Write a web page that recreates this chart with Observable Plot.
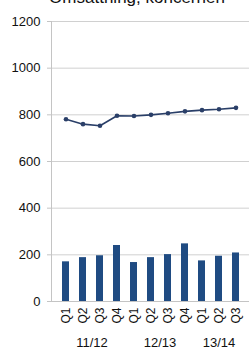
<!DOCTYPE html>
<html>
<head>
<meta charset="utf-8">
<script src="https://cdn.jsdelivr.net/npm/d3@7"></script>
<script src="https://cdn.jsdelivr.net/npm/@observablehq/plot@0.6"></script>
<style>
  body { margin: 0; background: #fff; font-family: "Liberation Sans", Arial, sans-serif; }
  #wrap { position: relative; width: 249px; height: 350px; overflow: hidden; }
  #title { position: absolute; left: 0; width: 274px; text-align: center; top: -11px; font-size: 17px; line-height: 17px; color: #111; white-space: nowrap; }
  #chart { position: absolute; left: 0; top: 0; }
</style>
</head>
<body>
<div id="wrap">
  <div id="title">Omsättning, koncernen</div>
  <div id="chart"></div>
</div>
<script>
const years = ["11/12","11/12","11/12","11/12","12/13","12/13","12/13","12/13","13/14","13/14","13/14"];
const quarters = ["Q1","Q2","Q3","Q4","Q1","Q2","Q3","Q4","Q1","Q2","Q3"];
const lineValues = [781, 760, 753, 796, 795, 800, 807, 815, 820, 824, 830];
const barValues = [170, 188, 196, 240, 167, 188, 201, 247, 174, 194, 208];
const yTicks = [0, 200, 400, 600, 800, 1000, 1200];
const yearLabels = ["11/12", "12/13", "13/14"];

const keys = years.map((y, i) => y + " " + quarters[i]);
const rows = keys.map((k, i) => ({key: k, line: lineValues[i], bar: barValues[i]}));
// year label anchored at the middle quarter of each year; offset half a band for 4-quarter years
const yearRows = yearLabels.map(y => {
  const idx = years.map((v, i) => v === y ? i : -1).filter(i => i >= 0);
  const mid = idx[Math.floor((idx.length - 1) / 2)];
  return {key: keys[mid], label: y, even: idx.length % 2 === 0};
});

const step = (249 - 51) / keys.length;

const chart = Plot.plot({
  width: 249,
  height: 350,
  marginTop: 21,
  marginBottom: 49,
  marginLeft: 51,
  marginRight: 0,
  style: {fontFamily: "Liberation Sans, Arial, sans-serif", color: "#222", background: "transparent"},
  x: {domain: keys, padding: 0.6, align: 0.5, label: null},
  y: {domain: [0, 1200], ticks: yTicks, label: null},
  marks: [
    Plot.gridY(yTicks, {stroke: "#d0d0d0", strokeOpacity: 1}),
    Plot.frame({anchor: "left", stroke: "#c4c4c4"}),
    Plot.ruleY([0], {stroke: "#c4c4c4"}),
    Plot.barY(rows, {x: "key", y: "bar", fill: "#1f4b82"}),
    Plot.line(rows, {x: "key", y: "line", stroke: "#2a3f68", strokeWidth: 1.6}),
    Plot.dot(rows, {x: "key", y: "line", fill: "#2a3f68", r: 2.3}),
    Plot.axisY(yTicks, {tickSize: 4, tickPadding: 7, fontSize: 13, stroke: "#c4c4c4", fill: "#111",
      tickFormat: d => String(d), label: null}),
    Plot.axisX({tickSize: 0, tickRotate: -90, tickPadding: 6, fontSize: 12, fill: "#111",
      tickFormat: d => d.split(" ")[1], label: null}),
    Plot.text(yearRows.filter(d => d.even), {x: "key", y: () => 0, text: "label", dx: step / 2, dy: 41,
      fontSize: 13, fill: "#111", lineAnchor: "middle"}),
    Plot.text(yearRows.filter(d => !d.even), {x: "key", y: () => 0, text: "label", dy: 41,
      fontSize: 13, fill: "#111", lineAnchor: "middle"})
  ]
});
document.getElementById("chart").appendChild(chart);
</script>
</body>
</html>
